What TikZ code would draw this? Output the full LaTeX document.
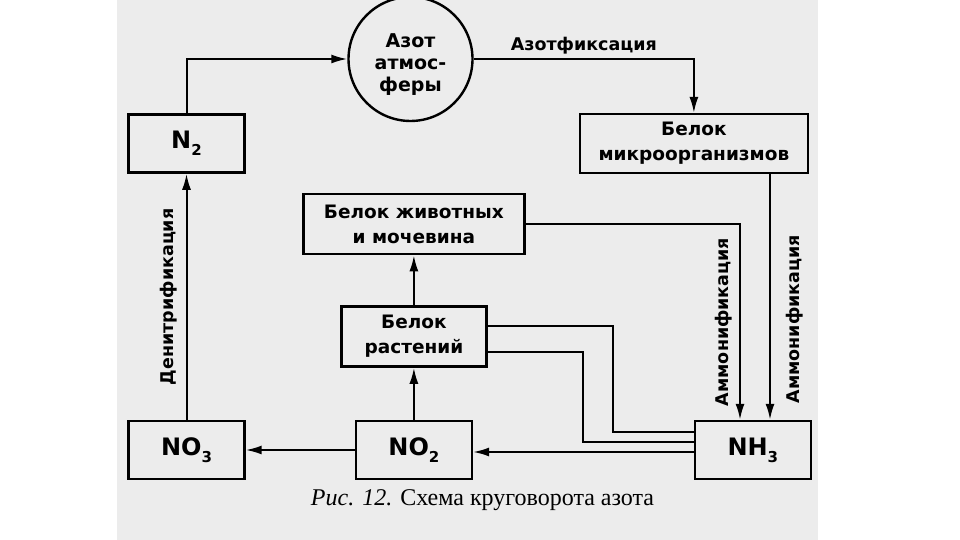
\documentclass[tikz,border=0pt]{standalone}
\usepackage{fontspec}
\setmainfont{Liberation Serif}
\newfontfamily\schemefont{DejaVu Sans}
\usetikzlibrary{arrows.meta, positioning}
\definecolor{paper}{RGB}{236,236,236}
\newcommand{\nsub}[1]{\raisebox{-0.3em}{\fontsize{15}{15}\selectfont #1}}

\begin{document}
\begin{tikzpicture}[
    x=1pt, y=1pt,
    node distance=50pt,
    box/.style={rectangle, draw, line width=2.4pt, minimum height=60pt, align=center, inner sep=2pt, font=\schemefont\bfseries\fontsize{18.5}{25}\selectfont},
    formbox/.style={box, minimum width=116pt, minimum height=58pt, font=\schemefont\bfseries\fontsize{24}{28}\selectfont},
    arrow/.style={-{Latex[length=16pt, width=9pt]}, line width=2pt},
    line/.style={line width=2pt},
    lbl/.style={font=\schemefont\bfseries\fontsize{17.5}{20}\selectfont}
]

% Fon
\fill[white] (0,0) rectangle (960,540);
\fill[paper] (117,0) rectangle (818,540);
\useasboundingbox (0,0) rectangle (960,540);

% Nizhnij rjad
\node[formbox] (no3) at (186.5,90) {NO\nsub{3}};
\node[formbox, right=109pt of no3] (no2) {NO\nsub{2}};
\node[formbox, right=220.5pt of no2] (nh3) {NH\nsub{3}};

% Belki
\node[box, minimum width=145pt, above=52pt of no2] (rast) {Белок\\растений};
\node[box, minimum width=221pt, above=50pt of rast] (zhiv) {Белок животных\\и мочевина};
\node[formbox, above=246pt of no3] (n2) {N\nsub{2}};
\node[box, minimum width=228pt, minimum height=59pt, right=333pt of n2] (mikro) {Белок\\микроорганизмов};

% Atmosfera
\node[circle, draw, line width=2.4pt, minimum size=124pt, inner sep=0pt, align=center, font=\schemefont\bfseries\fontsize{19}{22}\selectfont] (atm) at (410.5,481) {\mbox{}\\[2pt]Азот\\атмос-\\феры};

% Tochki vkhoda v NH3
\coordinate (nh3r) at ([xshift=-42pt]nh3.north east);
\coordinate (nh3l) at ([xshift=-72pt]nh3.north east);

% Strelki
\draw[arrow] (n2.north) |- (atm.west);
\draw[arrow] (atm.east) -| (mikro.north) node[lbl, pos=0.25, above=1pt] {Азотфиксация};
\draw[arrow] (nh3r |- mikro.south) -- (nh3r)
    node[lbl, pos=0.59, rotate=90, anchor=north, inner sep=15pt] {Аммонификация};
\draw[arrow] (zhiv.east) -| (nh3l)
    node[lbl, pos=0.75, rotate=90, anchor=south, inner sep=7pt] {Аммонификация};
\draw[arrow] (no3.north) -- (n2.south)
    node[lbl, midway, rotate=90, anchor=south, inner sep=8pt] {Денитрификация};

\draw[line] ([yshift=11pt]rast.east) -- ++(125pt,0) |- ([yshift=18pt]nh3.west);
\draw[line] ([yshift=-15pt]rast.east) -- ++(95pt,0) |- ([yshift=8pt]nh3.west);

\draw[arrow] ([yshift=-2pt]nh3.west) -- ([yshift=-2pt]no2.east);
\draw[arrow] (no2.west) -- (no3.east);
\draw[arrow] (no2.north) -- (rast.south);
\draw[arrow] (rast.north) -- (zhiv.south);

% Podpis
\node[font=\fontsize{24}{28}\selectfont] (caption) at (482.5,40) {\textit{Рис. 12.} Схема круговорота азота};

\end{tikzpicture}
\end{document}
